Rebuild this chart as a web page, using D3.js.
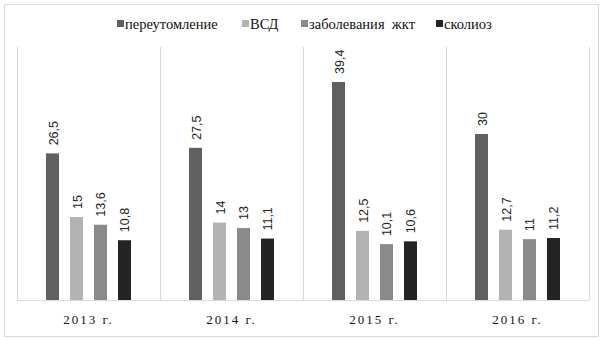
<!DOCTYPE html>
<html>
<head>
<meta charset="utf-8">
<script src="https://cdn.jsdelivr.net/npm/d3@7"></script>
<style>
  body { margin: 0; background: #fff; }
  .serif { font-family: "Liberation Serif", "Times New Roman", "DejaVu Serif", serif; }
  .sans { font-family: "Liberation Sans Narrow", "Liberation Sans", Arial, sans-serif; }
</style>
</head>
<body>
<div id="chart"></div>
<script>
const width = 605
const height = 340

const years = ['2013 г.', '2014 г.', '2015 г.', '2016 г.']
const series = ['переутомление', 'ВСД', 'заболевания  жкт', 'сколиоз']
const pereutomlenie = [26.5, 27.5, 39.4, 30]
const vsd = [15, 14, 12.5, 12.7]
const zhkt = [13.6, 13, 10.1, 11]
const skolioz = [10.8, 11.1, 10.6, 11.2]
const colors = ['#606060', '#b3b3b3', '#8a8a8a', '#242424']

const values = [pereutomlenie, vsd, zhkt, skolioz]
const fmt = v => String(v).replace('.', ',')

const svg = d3.select('#chart')
    .append('svg')
    .attr('width', width)
    .attr('height', height)

// outer frame
svg.append('rect')
    .attr('x', 4.5).attr('y', 4.5)
    .attr('width', 594).attr('height', 332)
    .attr('fill', 'none')
    .attr('stroke', '#d9d9d9')

const x0 = d3.scaleBand()
    .domain(years)
    .range([17, 589])

const x1 = d3.scaleBand()
    .domain(series)
    .range([29, 114])
    .paddingInner(0.458)

const y = d3.scaleLinear()
    .domain([0, 45])
    .range([300, 51])

// category separators
svg.append('g')
    .selectAll('line')
    .data(years)
    .enter()
    .append('line')
    .attr('x1', d => Math.round(x0(d) + x0.bandwidth()) + 0.5)
    .attr('x2', d => Math.round(x0(d) + x0.bandwidth()) + 0.5)
    .attr('y1', 47)
    .attr('y2', 300)
    .attr('stroke', '#d9d9d9')

svg.append('line')
    .attr('x1', 17.5).attr('x2', 17.5)
    .attr('y1', 47).attr('y2', 300)
    .attr('stroke', '#d9d9d9')

const groups = svg.selectAll('g.year')
    .data(years)
    .enter()
    .append('g')
    .attr('class', 'year')
    .attr('transform', d => `translate(${x0(d)},0)`)

groups.selectAll('rect')
    .data((d, i) => series.map((s, j) => ({s: s, v: values[j][i], c: colors[j]})))
    .enter()
    .append('rect')
    .attr('x', d => x1(d.s))
    .attr('y', d => y(d.v))
    .attr('width', x1.bandwidth())
    .attr('height', d => y(0) - y(d.v))
    .attr('fill', d => d.c)

groups.selectAll('text')
    .data((d, i) => series.map((s, j) => ({s: s, v: values[j][i]})))
    .enter()
    .append('text')
    .attr('class', 'sans')
    .attr('transform', d => `translate(${x1(d.s) + x1.bandwidth() / 2 + 5},${y(d.v) - 8}) rotate(-90)`)
    .attr('font-size', 12.5)
    .attr('fill', '#222')
    .text(d => fmt(d.v))

// x axis
const xAxis = d3.axisBottom(x0).tickSize(0).tickPadding(15)
const gx = svg.append('g')
    .attr('transform', 'translate(0,300)')
    .call(xAxis)
gx.attr('font-family', null)
gx.select('.domain').attr('stroke', '#d9d9d9').attr('d', 'M17,0.5H589')
gx.selectAll('text')
    .attr('class', 'serif')
    .attr('font-size', 13)
    .attr('letter-spacing', 2)
    .attr('fill', '#111')

// legend
const legendX = [117, 242, 301, 436]
const legend = svg.append('g')
    .selectAll('g')
    .data(series)
    .enter()
    .append('g')
    .attr('transform', (d, i) => `translate(${legendX[i]},24)`)

legend.append('rect')
    .attr('x', 0).attr('y', -4)
    .attr('width', 7).attr('height', 7)
    .attr('fill', (d, i) => colors[i])

legend.append('text')
    .attr('class', 'serif')
    .attr('x', 8)
    .attr('y', 4.5)
    .attr('font-size', 14.5)
    .attr('fill', '#111')
    .attr('xml:space', 'preserve')
    .style('white-space', 'pre')
    .text(d => d)
</script>
</body>
</html>
